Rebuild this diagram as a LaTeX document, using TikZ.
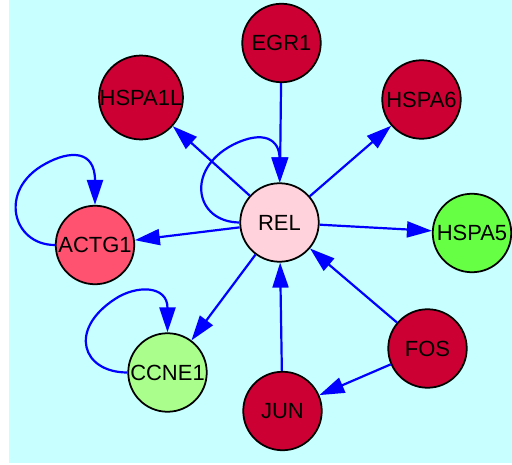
\documentclass[tikz,border=0pt]{standalone}
\usepackage{fontspec}
\setmainfont{Liberation Sans}
\usepackage{xcolor}
\usepackage{tikz}
\usetikzlibrary{arrows.meta}

\definecolor{bgcyan}{RGB}{200,255,255}
\definecolor{deepred}{RGB}{204,0,51}
\definecolor{rosered}{RGB}{255,82,112}
\definecolor{palepink}{RGB}{255,210,220}
\definecolor{brightgreen}{RGB}{102,255,68}
\definecolor{palegreen}{RGB}{170,255,140}
\definecolor{edgeblue}{RGB}{0,0,255}

\begin{document}
\begin{tikzpicture}[
                gene/.style = {circle, draw = black, line width = 1pt, minimum size = 1.57cm,
                    inner sep = 0pt, font = \fontsize{12.5}{14}\selectfont},
                link/.style = {draw = edgeblue, line width = 1.25pt,
                    -{Triangle[length = 0.5cm, width = 0.32cm]}}]
                \useasboundingbox (0,0) rectangle (10.24,-9.30);
                \fill[bgcyan] (0.18,0) rectangle (10.24,-9.26);
                \node[gene, fill = deepred] (EGR1) at (5.63,-0.86) {EGR1};
                \node[gene, fill = deepred] (HSPA1L) at (2.82,-1.95) {HSPA1L};
                \node[gene, fill = deepred] (HSPA6) at (8.43,-1.99) {HSPA6};
                \node[gene, fill = palepink] (REL) at (5.59,-4.45) {REL};
                \node[gene, fill = brightgreen] (HSPA5) at (9.44,-4.66) {HSPA5};
                \node[gene, fill = rosered] (ACTG1) at (1.90,-4.90) {ACTG1};
                \node[gene, fill = palegreen] (CCNE1) at (3.35,-7.45) {CCNE1};
                \node[gene, fill = deepred] (JUN) at (5.65,-8.22) {JUN};
                \node[gene, fill = deepred] (FOS) at (8.55,-6.97) {FOS};
                \draw[link] (EGR1) -- (REL);
                \draw[link] (REL) -- (HSPA1L);
                \draw[link] (REL) -- (HSPA6);
                \draw[link] (REL) -- (HSPA5);
                \draw[link] (REL) -- (ACTG1);
                \draw[link] (REL) -- (CCNE1);
                \draw[link] (JUN) -- (REL);
                \draw[link] (FOS) -- (REL);
                \draw[link] (FOS) -- (JUN);
                \draw[link] (REL.west) .. controls (3.90,-4.44) and (3.70,-3.40) .. (4.65,-2.90)
                    .. controls (5.28,-2.58) and (5.59,-2.80) .. (REL.north);
                \draw[link] (ACTG1.west) .. controls (0.25,-4.90) and (-0.05,-3.80) .. (0.90,-3.28)
                    .. controls (1.40,-3.00) and (1.90,-3.00) .. (ACTG1.north);
                \draw[link] (CCNE1.west) .. controls (1.65,-7.45) and (1.35,-6.60) .. (2.30,-5.98)
                    .. controls (2.72,-5.70) and (3.35,-5.70) .. (CCNE1.north);
            \end{tikzpicture}
\end{document}
